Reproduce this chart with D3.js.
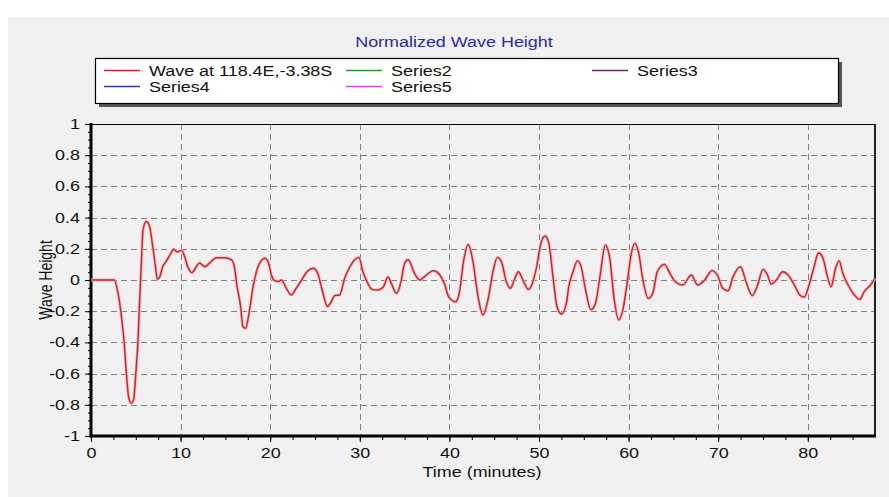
<!DOCTYPE html>
<html>
<head>
<meta charset="utf-8">
<script src="https://cdn.jsdelivr.net/npm/d3@7"></script>
<style>
  body { margin: 0; background: #fff; }
  svg { display: block; font-family: "Liberation Sans", Arial, sans-serif; }
  .tick text { font-size: 14px; fill: #111; }
  .title { font-size: 14px; fill: #2c2c9c; text-anchor: middle; }
  .axis-label { font-size: 14px; fill: #111; text-anchor: middle; }
  .legend text { font-size: 14px; fill: #111; }
</style>
</head>
<body>
<svg id="chart" width="889" height="497"></svg>
<script>
// DATA
const time = [0, 2.6, 3.0, 3.4, 3.7, 3.95, 4.2, 4.5, 4.75, 5.0, 5.25, 5.4, 5.6, 5.8, 6.17, 6.55, 6.9, 7.2, 7.4, 7.67,
    8.0, 8.4, 8.8, 9.26, 9.6, 10.1, 10.45, 10.8, 11.27, 11.76, 12.1, 12.7, 13.2, 14.0, 14.9, 15.66, 16.0, 16.3, 16.7, 16.96,
    17.25, 17.7, 18.1, 18.55, 19.1, 19.4, 19.8, 20.2, 20.4, 20.9, 21.25, 21.8, 22.35, 22.9, 23.5, 24.1, 24.8, 25.3, 25.8, 26.4,
    26.8, 27.2, 27.75, 28.3, 28.9, 29.4, 29.9, 30.35, 30.8, 31.36, 32.0, 32.6, 33.15, 33.5, 34.1, 34.6, 35.0, 35.4, 36.1, 36.7,
    37.2, 38.2, 38.9, 39.5, 39.9, 40.7, 41.1, 41.6, 42.1, 42.6, 43.2, 43.75, 44.3, 44.9, 45.35, 45.8, 46.35, 46.8, 47.3, 47.7,
    48.2, 48.8, 49.2, 49.7, 50.26, 50.7, 51.1, 51.56, 52.0, 52.5, 53.05, 53.3, 53.8, 54.3, 54.7, 55.2, 55.8, 56.3, 56.8, 57.4,
    57.9, 58.4, 58.9, 59.4, 59.86, 60.3, 60.7, 61.1, 61.6, 62.2, 62.7, 63.2, 64.0, 64.6, 65.1, 66.05, 67.0, 67.7, 68.5, 69.3,
    69.9, 70.5, 71.1, 71.65, 72.5, 73.1, 73.8, 74.4, 75.0, 75.5, 75.9, 76.5, 77.2, 77.8, 78.5, 79.1, 79.6, 80.2, 80.7, 81.2,
    81.7, 82.2, 82.6, 83.1, 83.5, 83.9, 84.5, 85.2, 85.8, 86.3, 87.0, 87.5];
const wave = [0, 0, -0.08, -0.235, -0.40, -0.60, -0.75, -0.79, -0.77, -0.60, -0.38, -0.17, 0.085, 0.32, 0.375, 0.34, 0.21, 0.085, 0.005, 0.02,
    0.085, 0.12, 0.16, 0.197, 0.18, 0.19, 0.15, 0.085, 0.047, 0.085, 0.11, 0.085, 0.107, 0.143, 0.143, 0.13, 0.085, -0.04, -0.17, -0.30,
    -0.31, -0.19, -0.04, 0.07, 0.13, 0.139, 0.11, 0.02, 0, -0.01, 0, -0.053, -0.096, -0.053, 0, 0.053, 0.075, 0.043, -0.064, -0.17,
    -0.14, -0.10, -0.096, 0.01, 0.085, 0.128, 0.145, 0.053, -0.01, -0.06, -0.064, -0.047, 0.02, -0.02, -0.085, -0.01, 0.107, 0.13, 0.043, 0,
    0.02, 0.06, 0.035, -0.032, -0.107, -0.14, -0.085, 0.128, 0.228, 0.128, -0.107, -0.224, -0.128, 0.064, 0.145, 0.118, -0.01, -0.053, 0.01, 0.053,
    0, -0.06, -0.032, 0.075, 0.245, 0.282, 0.235, 0.02, -0.17, -0.218, -0.15, -0.05, 0.053, 0.124, 0.085, -0.064, -0.19, -0.15, 0.02, 0.224,
    0.139, -0.128, -0.256, -0.18, -0.01, 0.17, 0.235, 0.18, 0, -0.118, -0.085, 0.053, 0.1, 0.043, -0.004, -0.032, 0.032, -0.032, 0, 0.06,
    0.032, -0.053, -0.07, 0.02, 0.085, -0.01, -0.10, -0.032, 0.068, 0.032, -0.026, 0, 0.053, 0.032, -0.032, -0.096, -0.11, -0.02, 0.085, 0.175,
    0.139, 0.02, -0.043, 0.075, 0.124, 0.043, -0.032, -0.096, -0.124, -0.075, -0.032, 0.01];

const seriesNames = ["Wave at 118.4E,-3.38S", "Series2", "Series3", "Series4", "Series5"];
const xTicks = [0, 10, 20, 30, 40, 50, 60, 70, 80];
const yTicks = [-1, -0.8, -0.6, -0.4, -0.2, 0, 0.2, 0.4, 0.6, 0.8, 1];
const xMinor = d3.range(0, 87.5, 2.5);
const yMinor = d3.range(-1, 1.001, 0.05);

// SETUP
const svg = d3.select("#chart");
const margin = { top: 124, right: 14, bottom: 61, left: 91 },
    width = 889 - margin.left - margin.right,
    height = 497 - margin.top - margin.bottom;

const colors = ["#c8262a", "#2e9a2e", "#6a2a6a", "#2a3f9a", "#e048d8"];
const stretchX = 1.28; // the reference screenshot is widened horizontally

// panel background
svg.append("rect").attr("x", 8).attr("y", 17).attr("width", 881).attr("height", 480).attr("fill", "#f0f0f0");

// title
svg.append("text").attr("class", "title").attr("x", 454).attr("y", 47).text("Normalized Wave Height");

// legend
const legend = svg.append("g").attr("class", "legend");
legend.append("rect").attr("x", 99).attr("y", 62).attr("width", 743).attr("height", 45).attr("fill", "#555");
legend.append("rect").attr("x", 95.5).attr("y", 58.5).attr("width", 743).attr("height", 45)
    .attr("fill", "#fff").attr("stroke", "#000").attr("stroke-width", 1.2);
const legX = [104, 346, 592];
seriesNames.forEach((name, i) => {
    const col = i % 3, row = Math.floor(i / 3);
    const lx = legX[col], ly = 70.5 + row * 16;
    legend.append("line").attr("x1", lx).attr("x2", lx + 36).attr("y1", ly).attr("y2", ly)
        .attr("stroke", colors[i]).attr("stroke-width", 1.3);
    legend.append("text").attr("x", lx + 45).attr("y", ly + 5).text(name);
});

const g = svg.append("g").attr("transform", `translate(${margin.left},${margin.top})`);

// SCALES
const x = d3.scaleLinear().domain([0, 87.5]).range([0, width]);
const y = d3.scaleLinear().domain([-1, 1]).range([height, 0]);

// grid
g.append("g").selectAll("line").data(yTicks.slice(1, -1)).join("line")
    .attr("x1", 0).attr("x2", width).attr("y1", d => Math.round(y(d)) + 0.5).attr("y2", d => Math.round(y(d)) + 0.5)
    .attr("stroke", "#808080").attr("stroke-dasharray", "6,4");
g.append("g").selectAll("line").data(xTicks.slice(1)).join("line")
    .attr("y1", 0).attr("y2", height).attr("x1", d => Math.round(x(d)) + 0.5).attr("x2", d => Math.round(x(d)) + 0.5)
    .attr("stroke", "#808080").attr("stroke-dasharray", "6,4");

// AXES
const fmt = d => String(+d.toFixed(1));
g.append("g").call(d3.axisLeft(y).tickValues(yMinor).tickSize(3).tickFormat(""))
    .call(a => a.select(".domain").remove());
g.append("g").call(d3.axisLeft(y).tickValues(yTicks).tickSize(6).tickPadding(5).tickFormat(fmt))
    .call(a => a.select(".domain").remove());
g.append("g").attr("transform", `translate(0,${height})`)
    .call(d3.axisBottom(x).tickValues(xMinor).tickSize(4).tickFormat(""))
    .call(a => a.select(".domain").remove());
g.append("g").attr("transform", `translate(0,${height})`)
    .call(d3.axisBottom(x).tickValues(xTicks).tickSize(6).tickPadding(6).tickFormat(d => d))
    .call(a => a.select(".domain").remove());

// frame
g.append("line").attr("x1", 0).attr("x2", width).attr("y1", 0.5).attr("y2", 0.5).attr("stroke", "#000");
g.append("line").attr("x1", width).attr("x2", width).attr("y1", 0).attr("y2", height).attr("stroke", "#222").attr("stroke-width", 2);
g.append("line").attr("x1", 0).attr("x2", 0).attr("y1", -1).attr("y2", height + 1.5).attr("stroke", "#000").attr("stroke-width", 3);
g.append("line").attr("x1", -1.5).attr("x2", width + 1).attr("y1", height).attr("y2", height).attr("stroke", "#000").attr("stroke-width", 3);

// LINE
const line = d3.line()
    .x((d, i) => x(time[i]))
    .y(d => y(d))
    .curve(d3.curveMonotoneX);
g.append("path").datum(wave)
    .attr("d", line)
    .attr("fill", "none")
    .attr("stroke", "#f2b4b4")
    .attr("stroke-width", 3);
g.append("path").datum(wave)
    .attr("d", line)
    .attr("fill", "none")
    .attr("stroke", colors[0])
    .attr("stroke-width", 1.4);

// LABELS
svg.append("text").attr("class", "axis-label").attr("x", 482).attr("y", 477).text("Time (minutes)");

// widen horizontal texts like the reference
svg.selectAll("text").each(function () {
    const len = this.getComputedTextLength();
    if (len > 0) d3.select(this).attr("textLength", len * stretchX).attr("lengthAdjust", "spacingAndGlyphs");
});

svg.append("text").attr("class", "axis-label")
    .attr("transform", `translate(52,280) scale(${stretchX},1) rotate(-90)`).text("Wave Height");
</script>
</body>
</html>
